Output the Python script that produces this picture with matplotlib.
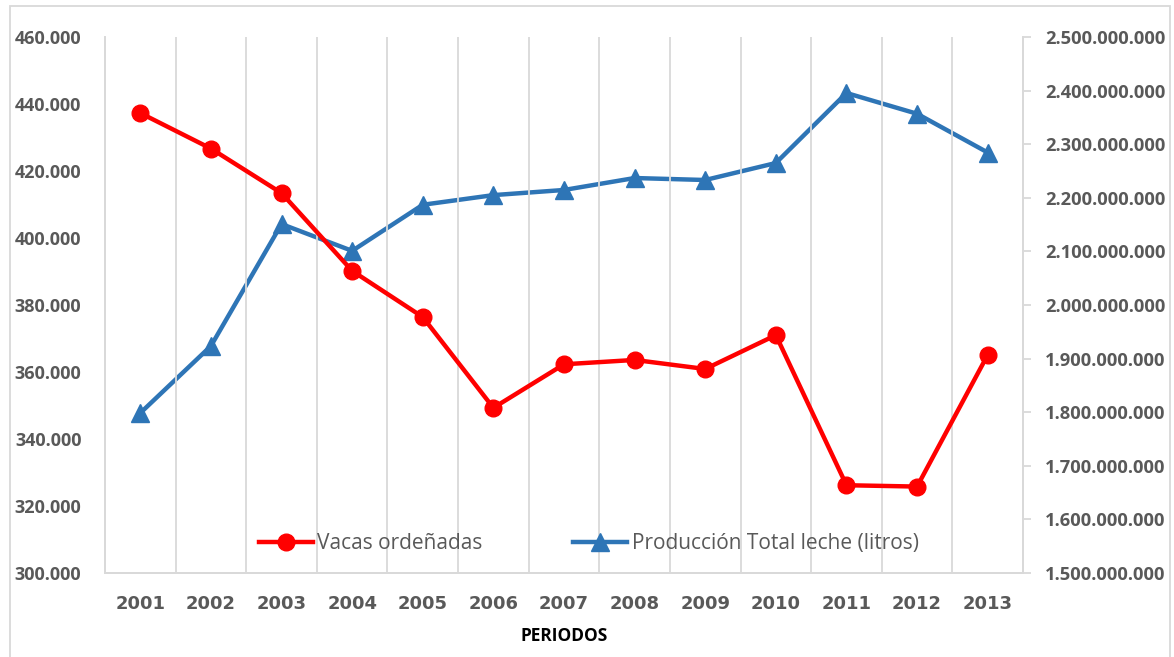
import matplotlib
matplotlib.use("Agg")
import matplotlib.pyplot as plt
from matplotlib.patches import Rectangle
from matplotlib.ticker import FuncFormatter

years = ["2001", "2002", "2003", "2004", "2005", "2006", "2007",
         "2008", "2009", "2010", "2011", "2012", "2013"]
vacas = [437300, 426700, 413400, 390200, 376400, 349300, 362300,
         363600, 360900, 371000, 326200, 325800, 365100]
produccion = [1798500000, 1923500000, 2151000000, 2101000000, 2187000000,
              2205000000, 2214600000, 2236900000, 2233200000, 2264900000,
              2395500000, 2356800000, 2284500000]

plt.rcParams['font.family'] = ['Open Sans', 'DejaVu Sans']
grey_txt = '#595959'
grid_c = '#d9d9d9'


def miles(v, pos):
    return f"{int(round(v)):,}".replace(",", ".")


fig = plt.figure(figsize=(11.74, 6.57), dpi=100)
W, H = 1174, 657
ax = fig.add_axes([105 / W, 1 - 573 / H, (1023 - 105) / W, (573 - 37) / H])
ax2 = ax.twinx()

x = list(range(len(years)))
ax2.plot(x, produccion, color='#2E75B6', lw=3.2, marker='^', ms=13,
         label='Producción Total leche (litros)')
ax.plot(x, vacas, color='#FF0000', lw=3.2, marker='o', ms=12,
        label='Vacas ordeñadas')

ax.set_zorder(ax2.get_zorder() + 1)
ax.patch.set_visible(False)

ax.set_xlim(-0.5, len(years) - 0.5)
ax.set_ylim(300000, 460000)
ax.set_yticks(range(300000, 460001, 20000))
ax2.set_ylim(1500000000, 2500000000)
ax2.set_yticks(range(1500000000, 2500000001, 100000000))
ax.yaxis.set_major_formatter(FuncFormatter(miles))
ax2.yaxis.set_major_formatter(FuncFormatter(miles))

ax.set_xticks(x)
ax.set_xticklabels(years)
for b in [i + 0.5 for i in range(len(years) - 1)]:
    ax.axvline(b, color=grid_c, lw=1.3, zorder=0)

for a in (ax, ax2):
    a.spines['top'].set_visible(False)
    for s in ('left', 'right', 'bottom'):
        a.spines[s].set_color(grid_c)
        a.spines[s].set_linewidth(1.3)

ax.tick_params(axis='y', length=0, pad=17, labelsize=13, labelcolor=grey_txt)
ax.tick_params(axis='x', length=0, pad=16, labelsize=13, labelcolor=grey_txt)
ax2.tick_params(axis='y', length=6, width=1.3, color=grid_c, pad=10,
                labelsize=13.2, labelcolor=grey_txt)
for lab in ax.get_yticklabels() + ax2.get_yticklabels():
    lab.set_fontweight('bold')
for lab in ax.get_xticklabels():
    lab.set_fontweight('bold')
    lab.set_family('DejaVu Sans')

ax.set_xlabel('PERIODOS', fontsize=12.5, fontweight='bold', color='black',
              labelpad=10)

h1, l1 = ax.get_legend_handles_labels()
h2, l2 = ax2.get_legend_handles_labels()
leg = ax.legend(h1 + h2, l1 + l2, loc='lower center', ncol=2, frameon=False,
                bbox_to_anchor=(0.527, 0.0), fontsize=15, handlelength=2.6,
                columnspacing=4.35, handletextpad=0.2, labelcolor=grey_txt)

fig.patches.append(Rectangle((10 / W, -0.05), 1160 / W, 1 - 6 / H + 0.05,
                             transform=fig.transFigure, fill=False,
                             edgecolor='#d9d9d9', lw=1.3))

fig.savefig('out.png', dpi=100)
